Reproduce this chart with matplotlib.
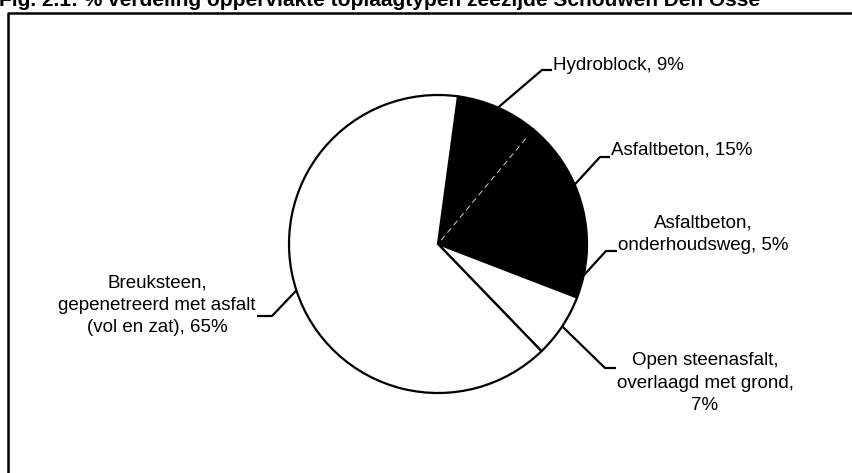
import numpy as np
import matplotlib.pyplot as plt

# data
labels = [
    "Hydroblock, 9%",
    "Asfaltbeton, 15%",
    "Asfaltbeton,\nonderhoudsweg, 5%",
    "Open steenasfalt,\noverlaagd met grond,\n7%",
    "Breuksteen,\ngepenetreerd met asfalt\n(vol en zat), 65%",
]
percentages = [9, 15, 5, 7, 65]
fills = ["black", "black", "black", "white", "white"]

title = "Fig. 2.1: % verdeling oppervlakte toplaagtypen zeezijde Schouwen Den Osse"

W, H = 852, 473


def Y(py):
    # pixel row (from top) -> data y
    return H - py


plt.rcParams["font.family"] = ["Liberation Sans", "DejaVu Sans"]

fig = plt.figure(figsize=(W / 100, H / 100), dpi=100)
ax = fig.add_axes([0, 0, 1, 1])

cx, cy, r = 438, Y(244), 149
wedges, _ = ax.pie(
    percentages,
    colors=fills,
    startangle=82.3,
    counterclock=False,
    center=(cx, cy),
    radius=r,
    frame=True,
    wedgeprops=dict(edgecolor="black", linewidth=1.6),
)
ax.set_xlim(0, W)
ax.set_ylim(0, H)
ax.set_aspect("equal")
ax.axis("off")

# faint light seam between the first two black slices (as in the scan)
seam = np.deg2rad(wedges[0].theta1)
ax.plot([cx + 5 * np.cos(seam), cx + (r - 12) * np.cos(seam)],
        [cy + 5 * np.sin(seam), cy + (r - 12) * np.sin(seam)],
        color="#d0d0d0", lw=0.7, ls=(0, (6, 4)))

# label layout: (elbow x, line y, end x, text x, text y, ha)
layout = [
    (542, 70, 552, 553, 65, "left"),
    (600, 157, 610, 611, 150, "left"),
    (606, 251, 617, 618, 234, "left"),
    (605, 368, 616, 705, 383, "center"),
    (272, 316, 257, 256, 305, "right"),
]

for w, lab, (ex, ly, endx, tx, ty, ha) in zip(wedges, labels, layout):
    mid = np.deg2rad((w.theta1 + w.theta2) / 2)
    ax_x = cx + r * np.cos(mid)
    ax_y = cy + r * np.sin(mid)
    ax.plot([ax_x, ex, endx], [ax_y, Y(ly), Y(ly)], color="black", lw=1.6,
            solid_capstyle="butt")
    ax.text(tx, Y(ty), lab, ha=ha, va="center", multialignment="center",
            fontsize=13.5, linespacing=1.4, color="black")

# border of the chart area
ax.plot([8, 8, W + 5], [-5, Y(12.5), Y(12.5)], color="black", lw=1.8,
        clip_on=False)

# title, cut off at the top edge
ax.text(-1, Y(6), title, ha="left", va="baseline", fontsize=15,
        fontweight="bold", color="black", clip_on=False)

fig.savefig("out.png", dpi=100)
